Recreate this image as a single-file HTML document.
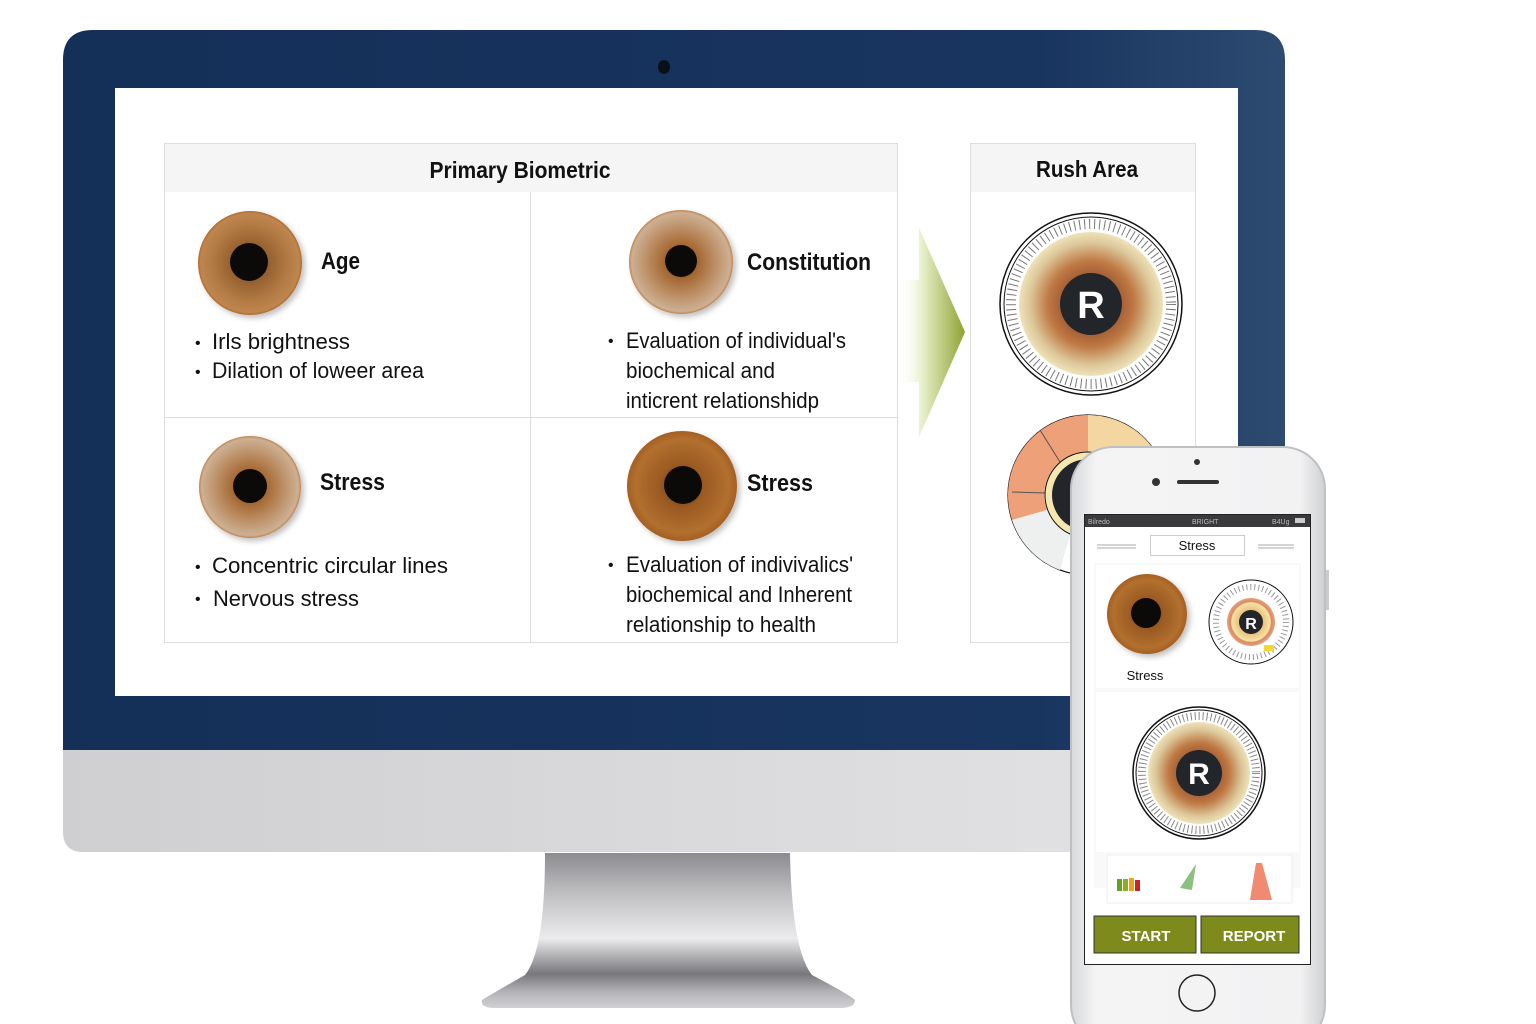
<!DOCTYPE html>
<html><head><meta charset="utf-8"><style>
html,body{margin:0;padding:0;background:#fff;width:1536px;height:1024px;overflow:hidden}
svg text{font-family:"Liberation Sans",sans-serif}
</style></head><body>
<svg width="1536" height="1024" viewBox="0 0 1536 1024" xmlns="http://www.w3.org/2000/svg">
<defs>
<linearGradient id="bez" x1="0" y1="0" x2="1" y2="0"><stop offset="0" stop-color="#142f58"/><stop offset="0.8" stop-color="#183560"/><stop offset="1" stop-color="#2d4b70"/></linearGradient>
<linearGradient id="chin" x1="0" y1="0" x2="1" y2="0"><stop offset="0" stop-color="#cfcfd1"/><stop offset="1" stop-color="#e4e4e6"/></linearGradient>
<linearGradient id="stand" x1="0" y1="0" x2="0" y2="1"><stop offset="0" stop-color="#8c8c90"/><stop offset="0.25" stop-color="#bdbdc0"/><stop offset="0.55" stop-color="#ececee"/><stop offset="0.78" stop-color="#77777c"/><stop offset="0.9" stop-color="#b5b5b9"/><stop offset="1" stop-color="#d0d0d3"/></linearGradient>
<radialGradient id="irA"><stop offset="0" stop-color="#5a3315"/><stop offset="0.35" stop-color="#94602f"/><stop offset="0.7" stop-color="#b07842"/><stop offset="0.95" stop-color="#bf8650"/><stop offset="1" stop-color="#b06a2a"/></radialGradient>
<radialGradient id="irC"><stop offset="0" stop-color="#6b3d18"/><stop offset="0.35" stop-color="#a66a35"/><stop offset="0.7" stop-color="#bf946c"/><stop offset="0.95" stop-color="#cdb094"/><stop offset="1" stop-color="#c0834a"/></radialGradient>
<radialGradient id="irD"><stop offset="0" stop-color="#5b3010"/><stop offset="0.4" stop-color="#9a5a22"/><stop offset="0.85" stop-color="#b2702f"/><stop offset="1" stop-color="#a65f22"/></radialGradient>
<radialGradient id="dial"><stop offset="0" stop-color="#4a2a18"/><stop offset="0.35" stop-color="#9a5530"/><stop offset="0.6" stop-color="#c07a45"/><stop offset="0.85" stop-color="#dcc79a"/><stop offset="1" stop-color="#efe2b8"/></radialGradient>
<radialGradient id="dial2"><stop offset="0" stop-color="#3a2a20"/><stop offset="0.5" stop-color="#e9c27a"/><stop offset="0.8" stop-color="#f7e2a8"/><stop offset="0.85" stop-color="#d88a60"/><stop offset="1" stop-color="#e8a080"/></radialGradient>
<linearGradient id="arr" x1="0" y1="0" x2="1" y2="0"><stop offset="0" stop-color="#fff" stop-opacity="0"/><stop offset="0.4" stop-color="#e2ebc0"/><stop offset="1" stop-color="#8ea232"/></linearGradient>
<linearGradient id="ph" x1="0" y1="0" x2="1" y2="0"><stop offset="0" stop-color="#d8d9db"/><stop offset="0.1" stop-color="#f4f4f5"/><stop offset="0.9" stop-color="#f2f2f3"/><stop offset="1" stop-color="#cfd0d2"/></linearGradient>
<filter id="sh" x="-20%" y="-20%" width="150%" height="150%"><feDropShadow dx="3" dy="3" stdDeviation="3" flood-opacity="0.25"/></filter>
</defs>

<path d="M93 30 H1255 Q1285 30 1285 60 V752 H63 V60 Q63 30 93 30Z" fill="url(#bez)"/>
<path d="M63 750 H1285 V832 Q1285 852 1265 852 H83 Q63 852 63 832Z" fill="url(#chin)"/>
<ellipse cx="664" cy="67" rx="6" ry="7" fill="#0a0f1a"/>
<rect x="115" y="88" width="1123" height="608" fill="#fff"/>
<path d="M545 853 H790 Q792 950 812 975 Q850 995 855 1000 Q855 1008 840 1008 H495 Q480 1008 482 1000 Q490 995 525 975 Q545 950 545 853Z" fill="url(#stand)"/>

<rect x="164.5" y="143.5" width="733" height="499" fill="#fff" stroke="#ddd"/>
<rect x="165" y="144" width="732" height="48" fill="#f5f5f5"/>
<line x1="530.5" y1="192" x2="530.5" y2="642" stroke="#ddd"/>
<line x1="165" y1="417.5" x2="897" y2="417.5" stroke="#ddd"/>
<text x="520" y="178" text-anchor="middle" font-size="23" font-weight="bold" fill="#111" textLength="181" lengthAdjust="spacingAndGlyphs">Primary Biometric</text>

<g filter="url(#sh)">
<circle cx="250" cy="263" r="52" fill="url(#irA)"/>
<circle cx="681" cy="262" r="52" fill="url(#irC)"/>
<circle cx="250" cy="487" r="51" fill="url(#irC)"/>
<circle cx="682" cy="486" r="55" fill="url(#irD)"/>
</g>
<circle cx="249" cy="262" r="19" fill="#0c0a08"/>
<circle cx="681" cy="261" r="16" fill="#0c0a08"/>
<circle cx="250" cy="486" r="17" fill="#0c0a08"/>
<circle cx="683" cy="485" r="19" fill="#0c0a08"/>

<g font-weight="bold" font-size="24" fill="#111">
<text x="321" y="269" textLength="39" lengthAdjust="spacingAndGlyphs">Age</text>
<text x="747" y="270" textLength="124" lengthAdjust="spacingAndGlyphs">Constitution</text>
<text x="320" y="490" textLength="65" lengthAdjust="spacingAndGlyphs">Stress</text>
<text x="747" y="491" textLength="66" lengthAdjust="spacingAndGlyphs">Stress</text>
</g>
<g font-size="22" fill="#111">
<text x="195" y="348" font-size="16">•</text><text x="212" y="349" textLength="138" lengthAdjust="spacingAndGlyphs">Irls brightness</text>
<text x="195" y="377" font-size="16">•</text><text x="212" y="378" textLength="212" lengthAdjust="spacingAndGlyphs">Dilation of loweer area</text>
<text x="195" y="572" font-size="16">•</text><text x="212" y="573" textLength="236" lengthAdjust="spacingAndGlyphs">Concentric circular lines</text>
<text x="195" y="604" font-size="16">•</text><text x="213" y="606" textLength="146" lengthAdjust="spacingAndGlyphs">Nervous stress</text>
<text x="608" y="346" font-size="16">•</text><text x="626" y="348" textLength="220" lengthAdjust="spacingAndGlyphs">Evaluation of individual's</text>
<text x="626" y="378" textLength="149" lengthAdjust="spacingAndGlyphs">biochemical and</text>
<text x="626" y="408" textLength="193" lengthAdjust="spacingAndGlyphs">inticrent relationshidp</text>
<text x="608" y="570" font-size="16">•</text><text x="626" y="572" textLength="227" lengthAdjust="spacingAndGlyphs">Evaluation of indivivalics'</text>
<text x="626" y="602" textLength="226" lengthAdjust="spacingAndGlyphs">biochemical and Inherent</text>
<text x="626" y="632" textLength="190" lengthAdjust="spacingAndGlyphs">relationship to health</text>
</g>

<path d="M898 280 H919 V228 L965 332 L919 437 V382 H898Z" fill="url(#arr)"/>

<rect x="970.5" y="143.5" width="225" height="499" fill="#fff" stroke="#ddd"/>
<rect x="971" y="144" width="224" height="48" fill="#f5f5f5"/>
<text x="1087" y="177" text-anchor="middle" font-size="23" font-weight="bold" fill="#111" textLength="102" lengthAdjust="spacingAndGlyphs">Rush Area</text>

<g>
<circle cx="1091" cy="304" r="91" fill="#fff" stroke="#111" stroke-width="1.5"/>
<circle cx="1091" cy="304" r="87" fill="none" stroke="#111" stroke-width="1"/>
<circle cx="1091" cy="304" r="80" fill="none" stroke="#777" stroke-width="10" stroke-dasharray="1 4"/>
<circle cx="1091" cy="304" r="72" fill="url(#dial)"/>
<circle cx="1091" cy="304" r="31" fill="#22252a"/>
<text x="1091" y="318" text-anchor="middle" font-size="38" font-weight="bold" fill="#fff">R</text>
</g>
<g>
<circle cx="1088" cy="495" r="80" fill="#fff" stroke="#111" stroke-width="1.2"/>
<path d="M1088 415 A80 80 0 0 0 1012 520 L1047 510 A43 43 0 0 1 1088 452Z" fill="#eea078"/>
<path d="M1088 415 A80 80 0 0 1 1160 460 L1120 470 A43 43 0 0 0 1088 452Z" fill="#f4d7a0"/>
<path d="M1012 520 A80 80 0 0 0 1060 570 L1070 535 A43 43 0 0 1 1047 510Z" fill="#eef0f0"/>
<line x1="1012" y1="492" x2="1045" y2="493" stroke="#555"/>
<line x1="1040" y1="430" x2="1060" y2="462" stroke="#555"/>
<circle cx="1088" cy="495" r="43" fill="#f5e7b0" stroke="#111"/>
<circle cx="1088" cy="495" r="36" fill="#23252a"/>
</g>

<rect x="1071" y="447" width="254" height="600" rx="42" fill="url(#ph)" stroke="#bfc0c3" stroke-width="2"/>
<rect x="1326" y="570" width="3" height="40" fill="#ccc"/>
<circle cx="1197" cy="462" r="3" fill="#333"/>
<circle cx="1156" cy="482" r="4" fill="#333"/>
<rect x="1177" y="480" width="42" height="4" rx="2" fill="#333"/>
<rect x="1084.5" y="514.5" width="226" height="450" fill="#fff" stroke="#222"/>
<rect x="1085" y="515" width="225" height="12" fill="#3a3a3c"/>
<text x="1088" y="524" font-size="7" fill="#bbb">Bilredo</text>
<text x="1192" y="524" font-size="7" fill="#bbb">BRIGHT</text>
<text x="1272" y="524" font-size="7" fill="#bbb">B4Ug</text>
<rect x="1295" y="518" width="10" height="5" fill="#ccc"/>
<line x1="1097" y1="545" x2="1136" y2="545" stroke="#aaa"/><line x1="1097" y1="548" x2="1136" y2="548" stroke="#aaa"/>
<line x1="1258" y1="545" x2="1294" y2="545" stroke="#aaa"/><line x1="1258" y1="548" x2="1294" y2="548" stroke="#aaa"/>
<rect x="1150.5" y="535.5" width="94" height="20" fill="#fff" stroke="#ccc"/>
<text x="1197" y="550" text-anchor="middle" font-size="13" fill="#111">Stress</text>
<rect x="1094" y="563" width="207" height="325" fill="#f9f9f9"/>
<rect x="1096" y="565" width="203" height="123" fill="#fff"/>
<rect x="1096" y="692" width="203" height="160" fill="#fff"/>
<circle cx="1147" cy="614" r="40" fill="url(#irD)" filter="url(#sh)"/>
<circle cx="1146" cy="613" r="15" fill="#0c0a08"/>
<text x="1145" y="680" text-anchor="middle" font-size="13" fill="#111">Stress</text>
<circle cx="1251" cy="622" r="42" fill="#fff" stroke="#111"/>
<circle cx="1251" cy="622" r="35" fill="none" stroke="#999" stroke-width="6" stroke-dasharray="1 3"/>
<circle cx="1251" cy="622" r="24" fill="url(#dial2)"/>
<circle cx="1251" cy="622" r="12" fill="#23252a"/>
<text x="1251" y="629" text-anchor="middle" font-size="16" font-weight="bold" fill="#fff">R</text>
<rect x="1264" y="645" width="10" height="6" fill="#f2d830"/>
<circle cx="1199" cy="773" r="66" fill="#fff" stroke="#111" stroke-width="1.5"/>
<circle cx="1199" cy="773" r="63" fill="none" stroke="#111"/>
<circle cx="1199" cy="773" r="57" fill="none" stroke="#888" stroke-width="8" stroke-dasharray="1 3"/>
<circle cx="1199" cy="773" r="51" fill="url(#dial)"/>
<circle cx="1199" cy="773" r="23" fill="#22252a"/>
<text x="1199" y="784" text-anchor="middle" font-size="30" font-weight="bold" fill="#fff">R</text>
<rect x="1107" y="855" width="185" height="48" fill="#fff" stroke="#eee"/>
<rect x="1117" y="879" width="5" height="12" fill="#6aa020"/><rect x="1123" y="879" width="5" height="12" fill="#8ab020"/><rect x="1129" y="878" width="5" height="13" fill="#f0a020"/><rect x="1135" y="880" width="5" height="11" fill="#d02020"/>
<path d="M1180 888 L1196 864 L1192 890Z" fill="#8cc080"/>
<path d="M1250 900 L1256 863 L1262 863 L1272 900Z" fill="#f08a70"/>
<rect x="1094" y="916" width="102" height="37" fill="#7e8a1c" stroke="#333"/>
<rect x="1201" y="916" width="98" height="37" fill="#7e8a1c" stroke="#333"/>
<text x="1146" y="941" text-anchor="middle" font-size="15" font-weight="bold" fill="#fff">START</text>
<text x="1254" y="941" text-anchor="middle" font-size="15" font-weight="bold" fill="#fff">REPORT</text>
<circle cx="1197" cy="993" r="18" fill="none" stroke="#222" stroke-width="1.5"/>
</svg>
</body></html>
